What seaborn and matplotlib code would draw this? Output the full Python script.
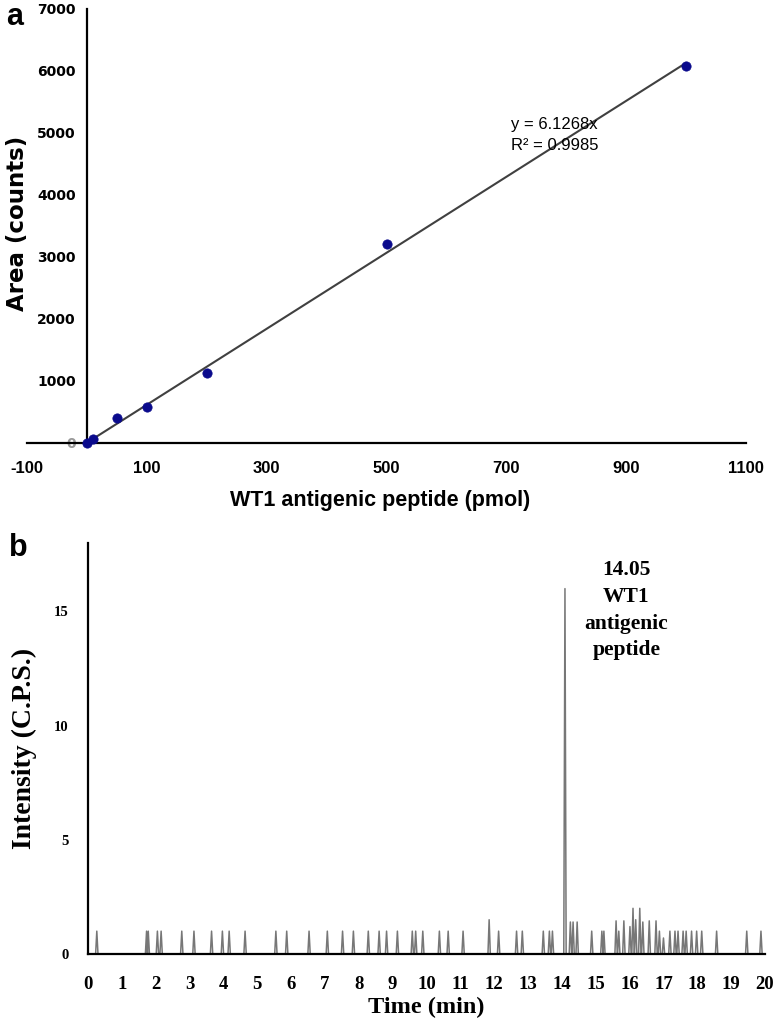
import pandas as pd
import seaborn as sns
import matplotlib.pyplot as plt

# panel a: calibration curve
amount_pmol = [0, 10, 50, 100, 200, 500, 1000]
area_counts = [0, 60, 400, 570, 1120, 3200, 6080]
fit_x = [0, 1000]
fit_y = [0, 6127]

# panel b: chromatogram, spike times (min) and heights (C.P.S.)
spike_times = [0.26, 1.73, 1.78, 2.05, 2.16, 2.77, 3.13, 3.65, 3.97, 4.17, 4.64,
               5.55, 5.87, 6.53, 7.07, 7.52, 7.84, 8.28, 8.60, 8.82, 9.14,
               9.58, 9.68, 9.89, 10.38, 10.64, 11.08, 11.85, 12.13, 12.66, 12.83,
               13.45, 13.63, 13.72, 14.09, 14.25, 14.33, 14.45, 14.88, 15.18, 15.24,
               15.60, 15.68, 15.83, 16.01, 16.10, 16.18, 16.30, 16.39, 16.58, 16.78,
               16.88, 17.00, 17.19, 17.34, 17.43, 17.58, 17.67, 17.83, 17.98, 18.13,
               18.57, 19.46, 19.88]
spike_heights = [1, 1, 1, 1, 1, 1, 1, 1, 1, 1, 1,
                 1, 1, 1, 1, 1, 1, 1, 1, 1, 1,
                 1, 1, 1, 1, 1, 1, 1.5, 1, 1, 1,
                 1, 1, 1, 16, 1.4, 1.4, 1.4, 1, 1, 1,
                 1.45, 1, 1.45, 1.2, 2, 1.5, 2, 1.4, 1.45, 1.45,
                 1, 0.7, 1, 1, 1, 1, 1, 1, 1, 1,
                 1, 1, 1]
x_ticks_b = list(range(0, 21))
y_ticks_b = [0, 5, 10, 15]

sns.set_style("white")
plt.rcParams.update({"text.color": "black", "axes.labelcolor": "black",
                     "xtick.color": "black", "ytick.color": "black"})

fig = plt.figure(figsize=(7.74, 10.26), dpi=100)

# ---------------- panel a ----------------
ax1 = fig.add_axes([0.0349, 0.5685, 0.929, 0.423])
df_a = pd.DataFrame({"amount": amount_pmol, "area": area_counts})
sns.lineplot(x=fit_x, y=fit_y, color="#404040", linewidth=1.5, ax=ax1)
sns.scatterplot(data=df_a, x="amount", y="area", color="#0a0a8c", s=45,
                edgecolor="#0a0a8c", linewidth=0.5, zorder=5, clip_on=False, ax=ax1)
ax1.set_xlim(-100, 1100)
ax1.set_ylim(0, 7000)
ax1.spines["left"].set_position(("data", 0))
ax1.spines["top"].set_visible(False)
ax1.spines["right"].set_visible(False)
for s in ["left", "bottom"]:
    ax1.spines[s].set_linewidth(1.6)
    ax1.spines[s].set_color("black")
ax1.set_xticks(range(-100, 1101, 200))
ax1.set_yticks(range(0, 7001, 1000))
ax1.tick_params(axis="both", direction="out", length=5, width=1, color="#888888")
ax1.set_xticklabels([str(v) for v in range(-100, 1101, 200)],
                    fontsize=12, fontweight="bold", family="Liberation Sans")
ax1.set_yticklabels([str(v) for v in range(0, 7001, 1000)],
                    fontsize=10, fontweight="bold", family="DejaVu Sans")
ax1.get_yticklabels()[0].set_color("#999999")
ax1.tick_params(axis="x", pad=8)
ax1.tick_params(axis="y", pad=3)
ax1.set_xlabel("")
ax1.set_ylabel("")
fig.text(0.491, 0.512, "WT1 antigenic peptide (pmol)", ha="center", va="center",
         fontsize=15.5, fontweight="bold", family="Liberation Sans")
fig.text(0.023, 0.782, "Area (counts)", ha="center", va="center", rotation=90,
         fontsize=16.5, fontweight="bold", family="DejaVu Sans")
ax1.text(708, 5250, "y = 6.1268x\nR² = 0.9985", ha="left", va="top",
         fontsize=12, family="Liberation Sans", linespacing=1.5)
fig.text(0.008, 0.983, "a", ha="left", va="center", fontsize=22,
         fontweight="bold", family="Liberation Sans")

# ---------------- panel b ----------------
ax2 = fig.add_axes([0.1137, 0.0702, 0.8747, 0.4006])
half = 0.035
tx, ty = [0.0], [0.0]
for t, h in zip(spike_times, spike_heights):
    tx += [t - half, t, t + half]
    ty += [0, h, 0]
tx.append(20.0)
ty.append(0.0)
df_b = pd.DataFrame({"time": tx, "intensity": ty})
sns.lineplot(data=df_b, x="time", y="intensity", sort=False, estimator=None,
             color="#777777", linewidth=1.1, ax=ax2)
ax2.set_xlim(0, 20)
ax2.set_ylim(0, 18)
ax2.spines["top"].set_visible(False)
ax2.spines["right"].set_visible(False)
for s in ["left", "bottom"]:
    ax2.spines[s].set_linewidth(1.6)
    ax2.spines[s].set_color("black")
ax2.set_xticks(x_ticks_b)
ax2.set_yticks(y_ticks_b)
ax2.tick_params(axis="both", direction="out", length=4, width=1, color="#999999")
ax2.set_xticklabels([str(v) for v in x_ticks_b], fontsize=13.5, fontweight="bold",
                    family="Liberation Serif")
ax2.set_yticklabels([str(v) for v in y_ticks_b], fontsize=10.5, fontweight="bold",
                    family="Liberation Serif")
ax2.tick_params(axis="x", pad=12)
ax2.tick_params(axis="y", pad=10)
ax2.set_xlabel("Time (min)", fontsize=17.5, fontweight="bold", family="Liberation Serif",
               labelpad=3)
ax2.set_ylabel("Intensity (C.P.S.)", fontsize=20, fontweight="bold",
               family="Liberation Serif", labelpad=12)
ax2.text(15.9, 17.25, "14.05\nWT1\nantigenic\npeptide", ha="center", va="top",
         fontsize=15.5, fontweight="bold", family="Liberation Serif", linespacing=1.45)
fig.text(0.012, 0.466, "b", ha="left", va="center", fontsize=22,
         fontweight="bold", family="Liberation Sans")

fig.savefig("out.png", dpi=100)
